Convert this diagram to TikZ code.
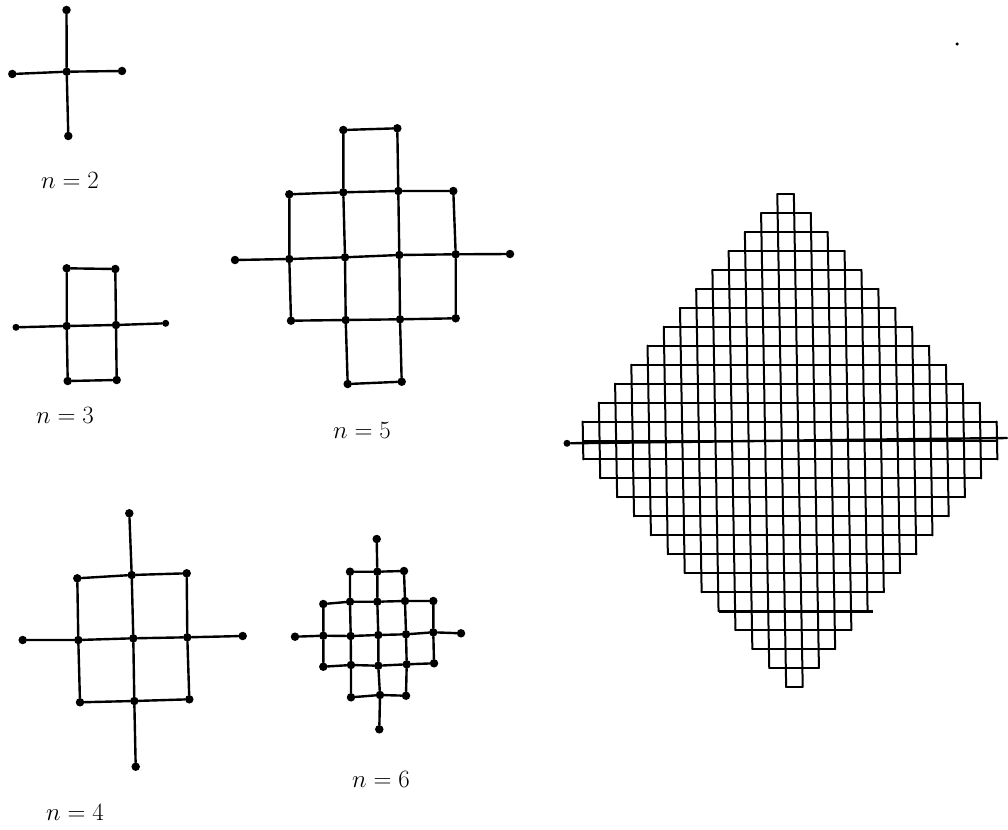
\documentclass[tikz,border=0pt]{standalone}
\begin{document}
\begin{tikzpicture}[x=1pt,y=-1pt,
  vtx/.style={circle, fill=black, inner sep=0pt, minimum size=8.5pt},
  endvtx/.style={circle, fill=black, inner sep=0pt, minimum size=7pt},
  speck/.style={circle, fill=black, inner sep=0pt, minimum size=3.5pt},
  edge/.style={line width=2.4pt, line cap=round},
  cellline/.style={line width=2pt, line cap=round},
  thickline/.style={line width=3pt},
  lbl/.style={font=\fontsize{25}{27}\selectfont, inner sep=0pt}]
\useasboundingbox (0,0) rectangle (1008,829);

% ---------- n = 2 ----------
\node[vtx] (a0) at (66.7,71.7) {};
\node[vtx] (aT) at (66.5,10) {};
\node[vtx] (aL) at (12.3,74) {};
\node[vtx] (aR) at (122,71) {};
\node[vtx] (aB) at (68.3,136) {};
\draw[edge] (a0) -- (aT) (a0) -- (aL) (a0) -- (aR) (a0) -- (aB);
\node[lbl] (la) at (70,180) {$n=2$};

% ---------- n = 3 ----------
\node[vtx] (b1) at (66.7,268.3) {};
\node[vtx] (b2) at (115.3,269) {};
\node[vtx] (b3) at (66.7,326) {};
\node[vtx] (b4) at (116,325) {};
\node[vtx] (b5) at (67.7,381) {};
\node[vtx] (b6) at (116.7,380) {};
\node[endvtx] (bL) at (16,327.3) {};
\node[endvtx] (bR) at (165.7,323.3) {};
\draw[edge] (b1) -- (b2) (b1) -- (b3) (b2) -- (b4) (b3) -- (b4)
  (b3) -- (b5) (b4) -- (b6) (b5) -- (b6) (bL) -- (b3) (b4) -- (bR);
\node[lbl] (lb) at (65,415) {$n=3$};

% ---------- n = 5 ----------
\node[vtx] (c12) at (343.3,130) {};
\node[vtx] (c13) at (397.3,128.3) {};
\node[vtx] (c21) at (289.3,194.3) {};
\node[vtx] (c22) at (343.3,192.3) {};
\node[vtx] (c23) at (398.3,191) {};
\node[vtx] (c24) at (453.3,191) {};
\node[vtx] (cL) at (235,260) {};
\node[vtx] (c31) at (289.3,259) {};
\node[vtx] (c32) at (345,257.3) {};
\node[vtx] (c33) at (399.3,255) {};
\node[vtx] (c34) at (455.7,254.3) {};
\node[vtx] (cR) at (510,254) {};
\node[vtx] (c41) at (291,320.7) {};
\node[vtx] (c42) at (345.7,320) {};
\node[vtx] (c43) at (400,319.3) {};
\node[vtx] (c44) at (455.7,318.3) {};
\node[vtx] (c52) at (347.7,384) {};
\node[vtx] (c53) at (401.7,381.7) {};
\draw[edge] (c12) -- (c13)
  (c21) -- (c22) -- (c23) -- (c24)
  (cL) -- (c31) -- (c32) -- (c33) -- (c34) -- (cR)
  (c41) -- (c42) -- (c43) -- (c44)
  (c52) -- (c53)
  (c12) -- (c22) -- (c32) -- (c42) -- (c52)
  (c13) -- (c23) -- (c33) -- (c43) -- (c53)
  (c21) -- (c31) -- (c41)
  (c24) -- (c34) -- (c44);
\node[lbl] (lc) at (362,430) {$n=5$};

% ---------- n = 4 ----------
\node[vtx] (dT) at (129.3,513.3) {};
\node[vtx] (d11) at (77.3,578.3) {};
\node[vtx] (d12) at (131.7,575) {};
\node[vtx] (d13) at (186.7,573.3) {};
\node[vtx] (dL) at (22.7,640) {};
\node[vtx] (d21) at (78.3,640) {};
\node[vtx] (d22) at (133.3,638.3) {};
\node[vtx] (d23) at (187.3,637.3) {};
\node[vtx] (dR) at (242.7,636) {};
\node[vtx] (d31) at (80,702.3) {};
\node[vtx] (d32) at (134.3,701) {};
\node[vtx] (d33) at (189.3,699.3) {};
\node[vtx] (dB) at (135.7,766.7) {};
\draw[edge] (d11) -- (d12) -- (d13)
  (dL) -- (d21) -- (d22) -- (d23) -- (dR)
  (d31) -- (d32) -- (d33)
  (d11) -- (d21) -- (d31)
  (dT) -- (d12) -- (d22) -- (d32) -- (dB)
  (d13) -- (d23) -- (d33);
\node[lbl] (ld) at (75,812) {$n=4$};

% ---------- n = 6 ----------
\node[vtx] (eT) at (376.7,539) {};
\node[vtx] (e12) at (350,571.7) {};
\node[vtx] (e13) at (377.3,571.7) {};
\node[vtx] (e14) at (404,571) {};
\node[vtx] (e21) at (323.3,604) {};
\node[vtx] (e22) at (350,601.7) {};
\node[vtx] (e23) at (377.3,601.7) {};
\node[vtx] (e24) at (405,601) {};
\node[vtx] (e25) at (433.3,601) {};
\node[vtx] (eL) at (295,636.7) {};
\node[vtx] (e31) at (323.3,635.7) {};
\node[vtx] (e32) at (350.7,636) {};
\node[vtx] (e33) at (378.3,635) {};
\node[vtx] (e34) at (406,634.3) {};
\node[vtx] (e35) at (433.3,632.3) {};
\node[vtx] (eR) at (461,633.3) {};
\node[vtx] (e41) at (323.3,666.7) {};
\node[vtx] (e42) at (351,665) {};
\node[vtx] (e43) at (378.3,665.7) {};
\node[vtx] (e44) at (406.7,664.3) {};
\node[vtx] (e45) at (434,663.3) {};
\node[vtx] (e52) at (351,697.3) {};
\node[vtx] (e53) at (380,695) {};
\node[vtx] (e54) at (406,695.7) {};
\node[vtx] (eB) at (379.3,729.3) {};
\draw[edge] (e12) -- (e13) -- (e14)
  (e21) -- (e22) -- (e23) -- (e24) -- (e25)
  (eL) -- (e31) -- (e32) -- (e33) -- (e34) -- (e35) -- (eR)
  (e41) -- (e42) -- (e43) -- (e44) -- (e45)
  (e52) -- (e53) -- (e54)
  (e21) -- (e31) -- (e41)
  (e12) -- (e22) -- (e32) -- (e42) -- (e52)
  (eT) -- (e13) -- (e23) -- (e33) -- (e43) -- (e53) -- (eB)
  (e14) -- (e24) -- (e34) -- (e44) -- (e54)
  (e25) -- (e35) -- (e45);
\node[lbl] (le) at (381,779) {$n=6$};

% ---------- large staircase diamond ----------
\begin{scope}[shift={(790,440.5)}, xslant=-0.018]
  \foreach \r in {0,...,25} {
    \pgfmathsetmacro{\hw}{(\r<12) ? (\r+0.5) : ((\r<14) ? 12.5 : (25.5-\r))}
    \pgfmathsetmacro{\yt}{(\r-13)*18.96}
    \pgfmathsetmacro{\yb}{(\r-12)*18.96}
    \pgfmathtruncatemacro{\nc}{2*\hw}
    \draw[cellline] (-\hw*16.56,\yt) -- (\hw*16.56,\yt)
                    (-\hw*16.56,\yb) -- (\hw*16.56,\yb);
    \foreach \k in {0,...,\nc} {
      \draw[cellline] ({(\k-\hw)*16.56},\yt) -- ({(\k-\hw)*16.56},\yb);
    }
  }
  \draw[thickline] (-4.5*16.56,{9*18.96}) -- (4.8*16.56,{9*18.96});
\end{scope}
\node[endvtx] (gL) at (567,443.3) {};
\coordinate (gE) at (1007,438);
\draw[edge] (gL) -- (gE);

% small speck at top right
\node[speck] (sp) at (957,44) {};
\end{tikzpicture}
\end{document}
